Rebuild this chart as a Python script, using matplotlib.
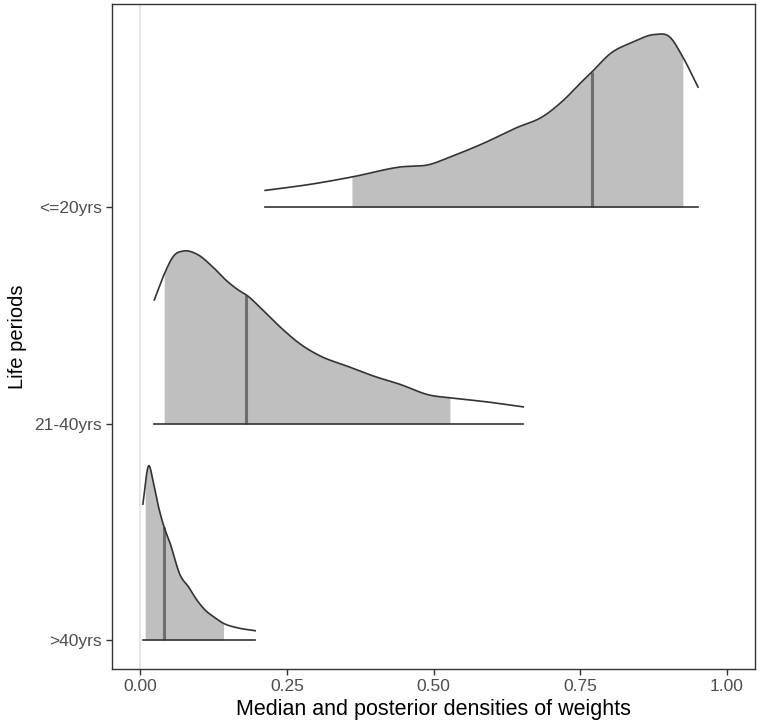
import numpy as np
import matplotlib
matplotlib.use("Agg")
from matplotlib import pyplot as plt

plt.rcParams['font.family'] = ['Liberation Sans', 'DejaVu Sans']

# Life periods, bottom to top
periods = ['>40yrs', '21-40yrs', '<=20yrs']

# Density curves (x = weight, h = scaled density)
x_old = [0.0046, 0.0141, 0.0227, 0.0312, 0.0397, 0.0511, 0.0681, 0.0823,
         0.0966, 0.1136, 0.125, 0.142, 0.165, 0.196]
h_old = [0.628, 0.804, 0.724, 0.616, 0.531, 0.446, 0.300, 0.246,
         0.185, 0.131, 0.108, 0.077, 0.057, 0.043]

x_mid = [0.024, 0.041, 0.057, 0.074, 0.097, 0.125, 0.148, 0.170, 0.181,
         0.204, 0.239, 0.273, 0.307, 0.352, 0.397, 0.443, 0.494, 0.528,
         0.591, 0.653]
h_mid = [0.571, 0.690, 0.774, 0.797, 0.782, 0.720, 0.658, 0.612, 0.594,
         0.538, 0.445, 0.367, 0.312, 0.266, 0.220, 0.181, 0.131, 0.119,
         0.100, 0.077]

x_young = [0.213, 0.29, 0.361, 0.443, 0.494, 0.528, 0.584, 0.642, 0.687,
           0.721, 0.755, 0.770, 0.801, 0.840, 0.877, 0.903, 0.925, 0.951]
h_young = [0.077, 0.105, 0.139, 0.185, 0.197, 0.231, 0.293, 0.367, 0.419,
           0.492, 0.585, 0.624, 0.708, 0.762, 0.797, 0.785, 0.693, 0.554]

# medians and inner intervals (shaded)
medians = [0.041, 0.181, 0.770]
int_lo = [0.0085, 0.041, 0.361]
int_hi = [0.142, 0.528, 0.925]

curves = [(x_old, h_old), (x_mid, h_mid), (x_young, h_young)]


def smooth(xs, hs, xq):
    # cubic hermite through the read points, only to draw a round line
    xs = np.asarray(xs, float)
    hs = np.asarray(hs, float)
    d = np.diff(hs) / np.diff(xs)
    m = np.empty_like(hs)
    m[0], m[-1] = d[0], d[-1]
    w1 = np.diff(xs)[1:]
    w0 = np.diff(xs)[:-1]
    m[1:-1] = (w1 * d[:-1] + w0 * d[1:]) / (w0 + w1)
    k = np.clip(np.searchsorted(xs, xq) - 1, 0, len(xs) - 2)
    dx = xs[k + 1] - xs[k]
    t = (xq - xs[k]) / dx
    h00 = 2 * t**3 - 3 * t**2 + 1
    h10 = t**3 - 2 * t**2 + t
    h01 = -2 * t**3 + 3 * t**2
    h11 = t**3 - t**2
    return h00 * hs[k] + h10 * dx * m[k] + h01 * hs[k + 1] + h11 * dx * m[k + 1]


fig = plt.figure(figsize=(7.6, 7.28), dpi=100)
ax = fig.add_axes([0.1474, 0.081, 0.846, 0.9135])

ax.axvline(0, color='#e6e6e6', lw=1.4, zorder=0)

for i, (xs, hs) in enumerate(curves):
    base = i + 1
    xd = np.linspace(xs[0], xs[-1], 400)
    hd = smooth(xs, hs, xd)
    # shaded interval
    xf = np.linspace(int_lo[i], int_hi[i], 300)
    ax.fill_between(xf, base, base + smooth(xs, hs, xf), color='#bfbfbf', lw=0, zorder=1)
    # median
    hm = smooth(xs, hs, np.array([medians[i]]))[0]
    ax.plot([medians[i], medians[i]], [base, base + hm], color='#6e6e6e', lw=2.2,
            solid_capstyle='butt', zorder=2)
    # outline and baseline
    ax.plot(xd, base + hd, color='#333333', lw=1.2, zorder=3)
    ax.plot([xs[0], xs[-1]], [base, base], color='#333333', lw=1.2, zorder=3)

ax.set_xlim(-0.048, 1.048)
ax.set_ylim(0.866, 3.938)
ax.set_xticks([0, 0.25, 0.5, 0.75, 1.0])
ax.set_xticklabels(['0.00', '0.25', '0.50', '0.75', '1.00'])
ax.set_yticks([1, 2, 3])
ax.set_yticklabels(periods)

ax.tick_params(axis='both', colors='#333333', labelcolor='#4d4d4d',
               labelsize=12.5, length=4, width=1)
for s in ax.spines.values():
    s.set_color('#333333')
    s.set_linewidth(1.0)

ax.set_xlabel('Median and posterior densities of weights', fontsize=15.5, color='black', labelpad=3)
ax.set_ylabel('Life periods', fontsize=14.5, color='black', labelpad=5)

fig.savefig('out.png', dpi=100)
